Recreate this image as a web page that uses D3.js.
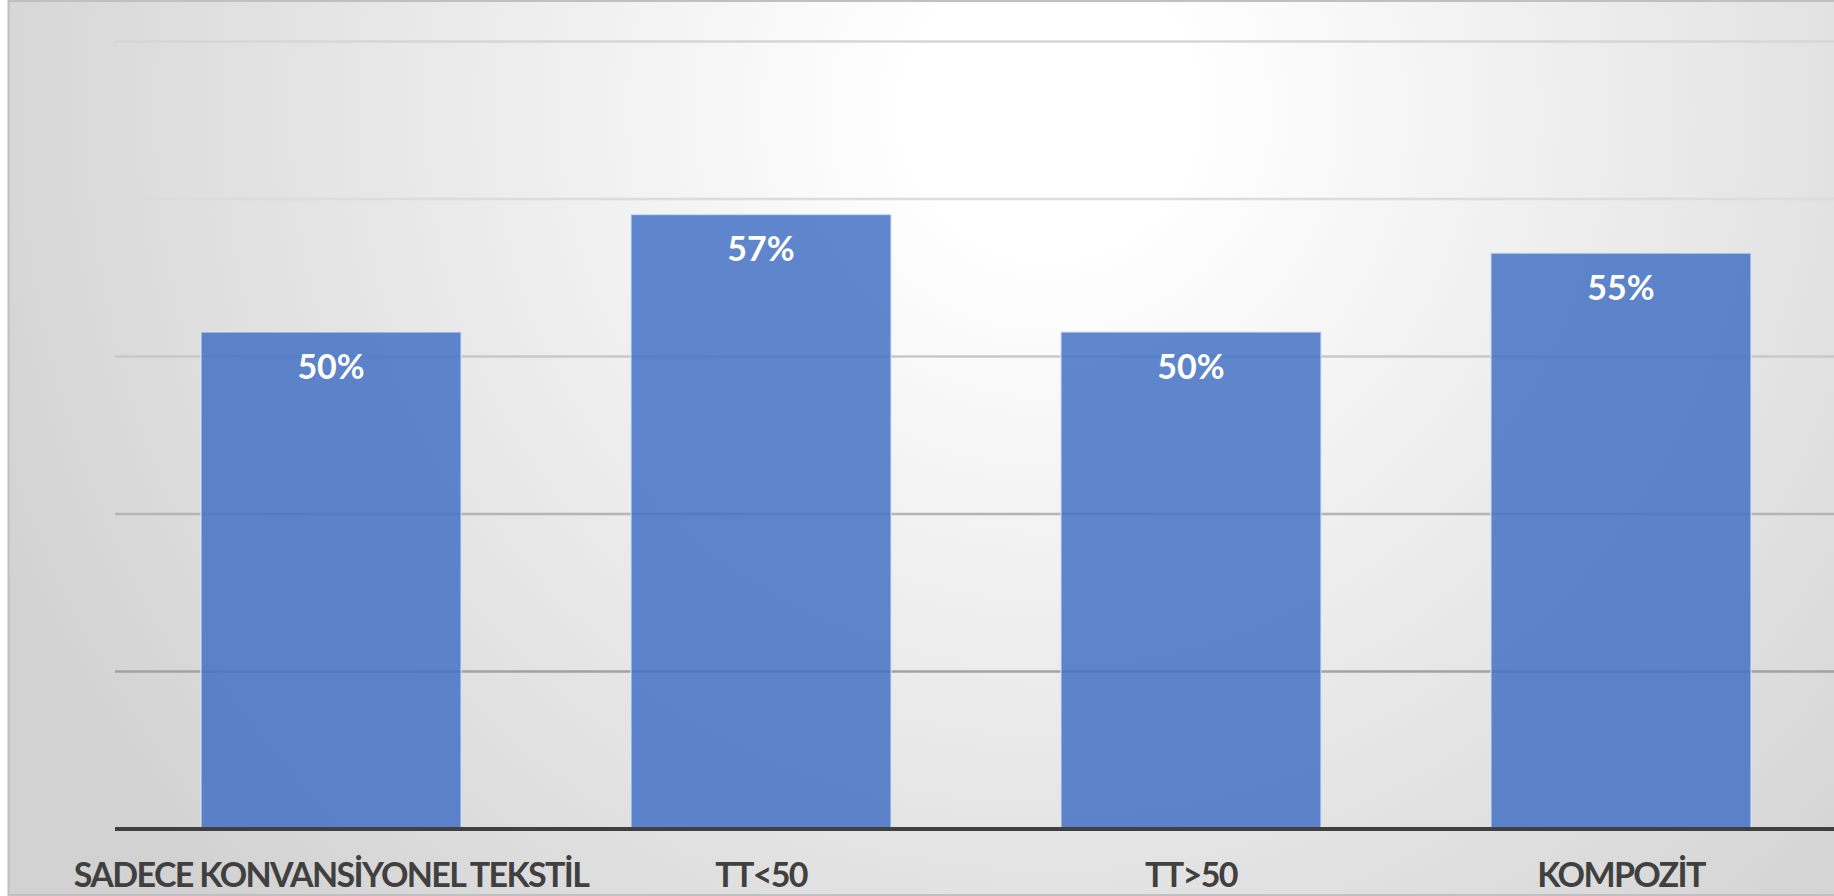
<!DOCTYPE html>
<html>
<head>
<meta charset="utf-8">
<script src="https://cdn.jsdelivr.net/npm/d3@7/dist/d3.min.js"></script>
<style>
  html, body { margin: 0; padding: 0; background: #ffffff; overflow: hidden; }
  svg { display: block; }
</style>
</head>
<body>
<svg id="chart" width="1834" height="896"></svg>
<script>
// ---- data ----
const categories = ["SADECE KONVANSİYONEL TEKSTİL", "TT<50", "TT>50", "KOMPOZİT"];
const values = [0.50, 0.57, 0.50, 0.547];
const valueLabels = ["50%", "57%", "50%", "55%"];
const yDomain = [0.204, 0.673];
const gridCount = 5;

// ---- layout ----
const W = 1834, H = 896;
const plotLeft = 115, plotRight = 1837, plotTop = 41.5, plotBottom = 829;

const svg = d3.select("#chart");
const defs = svg.append("defs");

const grad = defs.append("radialGradient")
  .attr("id", "bg")
  .attr("gradientUnits", "userSpaceOnUse")
  .attr("cx", 1050).attr("cy", 110).attr("r", 1150);
grad.append("stop").attr("offset", "0").attr("stop-color", "#ffffff");
grad.append("stop").attr("offset", "0.12").attr("stop-color", "#ffffff");
grad.append("stop").attr("offset", "1").attr("stop-color", "#d2d2d2");

// background panel with border
svg.append("rect")
  .attr("x", 8.5).attr("y", 1)
  .attr("width", W).attr("height", 894)
  .attr("fill", "url(#bg)")
  .attr("stroke", "#c0c0c0")
  .attr("stroke-width", 2);

const x = d3.scaleBand()
  .domain(categories)
  .range([plotLeft, plotRight])
  .paddingInner(0.395)
  .paddingOuter(0.2);

const y = d3.scaleLinear()
  .domain(yDomain)
  .range([plotBottom, plotTop]);

const gridValues = d3.range(1, gridCount + 1).map(i => yDomain[0] + i * (yDomain[1] - yDomain[0]) / gridCount);
const gridColor = d3.scaleLinear()
  .domain([plotTop, 200, plotBottom - 157])
  .range(["#d6d6d6", "#dcdcdc", "#a2a2a2"])
  .clamp(true);

// gridlines
svg.append("g").attr("class", "grid")
  .selectAll("line")
  .data(gridValues)
  .join("line")
  .attr("x1", plotLeft).attr("x2", W)
  .attr("y1", d => y(d)).attr("y2", d => y(d))
  .attr("stroke", d => gridColor(y(d)))
  .attr("stroke-width", 2.5);

// bars
svg.append("g").attr("class", "bars")
  .selectAll("rect")
  .data(values)
  .join("rect")
  .attr("x", (d, i) => x(categories[i]))
  .attr("y", d => y(d))
  .attr("width", x.bandwidth())
  .attr("height", d => y(yDomain[0]) - y(d))
  .attr("fill", "#4472c4")
  .attr("fill-opacity", 0.85)
  .attr("stroke", "rgba(220,232,250,0.7)")
  .attr("stroke-width", 1.5);

// value labels
svg.append("g").attr("class", "value-labels")
  .selectAll("text")
  .data(values)
  .join("text")
  .attr("x", (d, i) => x(categories[i]) + x.bandwidth() / 2)
  .attr("y", d => y(d) + 47)
  .attr("text-anchor", "middle")
  .attr("fill", "#ffffff")
  .attr("font-family", "Lato, 'Open Sans', sans-serif")
  .attr("font-weight", "bold")
  .attr("font-size", 34)
  .text((d, i) => valueLabels[i]);

// x axis
const xAxis = d3.axisBottom(x).tickSize(0).tickPadding(0);
const gx = svg.append("g")
  .attr("transform", `translate(0,${plotBottom})`)
  .call(xAxis);
gx.select(".domain").remove();
gx.append("line")
  .attr("x1", plotLeft).attr("x2", W)
  .attr("y1", 0).attr("y2", 0)
  .attr("stroke", "#404040")
  .attr("stroke-width", 4);
gx.selectAll(".tick text")
  .attr("dy", null)
  .attr("y", 58)
  .attr("fill", "#404040")
  .attr("font-family", "Lato, 'Open Sans', sans-serif")
  .attr("font-weight", "bold")
  .attr("font-size", 34)
  .attr("letter-spacing", "-1.65px");
</script>
</body>
</html>
